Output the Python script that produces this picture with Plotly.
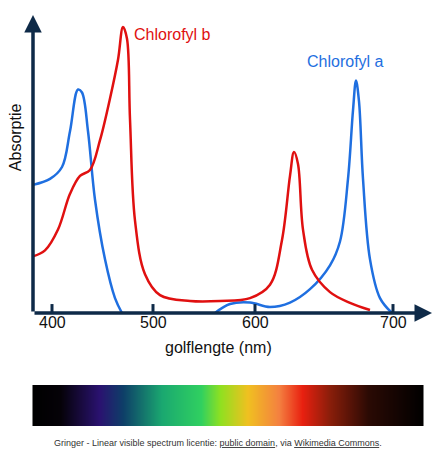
import plotly.graph_objects as go

# horizontal positions follow the drawing's (non-linear) wavelength axis
tick_pos = [52, 153, 255, 393]
tick_text = ["400", "500", "600", "700"]

# chlorofyl a (blue), two segments
a1_x = [33, 50, 62, 70, 78, 82, 88, 95, 105, 115, 122]
a1_y = [0.43, 0.45, 0.49, 0.61, 0.75, 0.74, 0.61, 0.38, 0.18, 0.05, 0.0]
a2_x = [215, 230, 250, 270, 290, 310, 330, 340, 348, 353, 356, 359, 363, 370, 380, 392]
a2_y = [0.0, 0.03, 0.035, 0.02, 0.035, 0.08, 0.16, 0.24, 0.45, 0.68, 0.78, 0.71, 0.45, 0.18, 0.05, 0.0]

# chlorofyl b (red)
b_x = [33, 45, 58, 70, 80, 90, 100, 110, 118, 123, 127, 130, 135, 145, 160, 190, 220, 250,
       270, 282, 290, 294, 298, 303, 312, 330, 350, 370]
b_y = [0.19, 0.21, 0.28, 0.40, 0.46, 0.48, 0.58, 0.72, 0.85, 0.96, 0.92, 0.65, 0.31, 0.13,
       0.06, 0.04, 0.04, 0.05, 0.095, 0.245, 0.46, 0.54, 0.50, 0.28, 0.145, 0.07, 0.034, 0.01]

# visible spectrum bar
spec_x = list(range(33, 424))
spec_stops = [(0.0, "#000000"), (0.07, "#050208"), (0.17, "#2a1270"), (0.23, "#0e3e68"),
              (0.33, "#1aa870"), (0.43, "#30d060"), (0.48, "#90e020"), (0.55, "#f0c020"),
              (0.63, "#f48040"), (0.69, "#e82010"), (0.76, "#8a1e0a"), (0.86, "#2a0a04"),
              (1.0, "#000000")]

navy = "#0e2a48"
off = 8  # page offset of the figure in the browser
fig = go.Figure()
fig.add_trace(go.Scatter(x=a1_x, y=a1_y, mode="lines", line=dict(color="#1f6fe0", width=2.5, shape="spline")))
fig.add_trace(go.Scatter(x=a2_x, y=a2_y, mode="lines", line=dict(color="#1f6fe0", width=2.5, shape="spline")))
fig.add_trace(go.Scatter(x=b_x, y=b_y, mode="lines", line=dict(color="#e01010", width=2.5, shape="spline")))
fig.add_trace(go.Heatmap(x=spec_x, y=[0], z=[spec_x], colorscale=spec_stops, showscale=False,
                         xaxis="x2", yaxis="y2", hoverinfo="skip"))

fig.update_layout(
    width=442, height=460, margin=dict(l=0, r=0, t=0, b=0),
    plot_bgcolor="white", paper_bgcolor="white", showlegend=False,
    font=dict(family="Liberation Sans, Arial", color="#111"),
    xaxis=dict(range=[off, 442 + off], domain=[0, 1], showgrid=False, zeroline=False,
               showticklabels=False, fixedrange=True),
    yaxis=dict(range=[0, 1], domain=[(460 - 313 + off) / 460, (460 - 15 + off) / 460],
               showgrid=False, zeroline=False, showticklabels=False),
    xaxis2=dict(range=[off, 442 + off], domain=[0, 1], anchor="y2", visible=False),
    yaxis2=dict(range=[-0.5, 0.5], domain=[(460 - 426 + off) / 460, (460 - 385 + off) / 460],
                anchor="x2", visible=False),
)

# axes drawn as arrows
fig.add_annotation(x=432, y=0, ax=33, ay=0, xref="x", yref="y", axref="x", ayref="y",
                   showarrow=True, arrowhead=2, arrowsize=1, arrowwidth=3.5, arrowcolor=navy, text="")
fig.add_annotation(x=33, y=1.0, ax=33, ay=0, xref="x", yref="y", axref="x", ayref="y",
                   showarrow=True, arrowhead=2, arrowsize=1, arrowwidth=3.5, arrowcolor=navy, text="")
for p, t in zip(tick_pos, tick_text):
    fig.add_shape(type="line", x0=p, x1=p, y0=-0.03, y1=0.03, line=dict(color=navy, width=3))
    fig.add_annotation(x=p, y=(460 - 333 + off) / 460, yref="paper", text=t, showarrow=False,
                       font=dict(size=16))

fig.add_annotation(x=218, y=(460 - 358 + off) / 460, yref="paper", text="golflengte (nm)",
                   showarrow=False, font=dict(size=16))
fig.add_annotation(x=15, y=0.59, text="Absorptie", textangle=-90, showarrow=False, font=dict(size=16))
fig.add_annotation(x=132, y=0.935, text="Chlorofyl b", xanchor="left", showarrow=False,
                   font=dict(size=16, color="#e01010"))
fig.add_annotation(x=305, y=0.845, text="Chlorofyl a", xanchor="left", showarrow=False,
                   font=dict(size=16, color="#1f6fe0"))
fig.add_annotation(x=(218 - off) / 442, y=(460 - 450 + off) / 460, xref="paper", yref="paper",
                   showarrow=False,
                   text="Gringer - Linear visible spectrum licentie: <u>public domain</u>, via <u>Wikimedia Commons</u>.",
                   font=dict(size=9, color="#333"))

fig.write_html("out.html")
